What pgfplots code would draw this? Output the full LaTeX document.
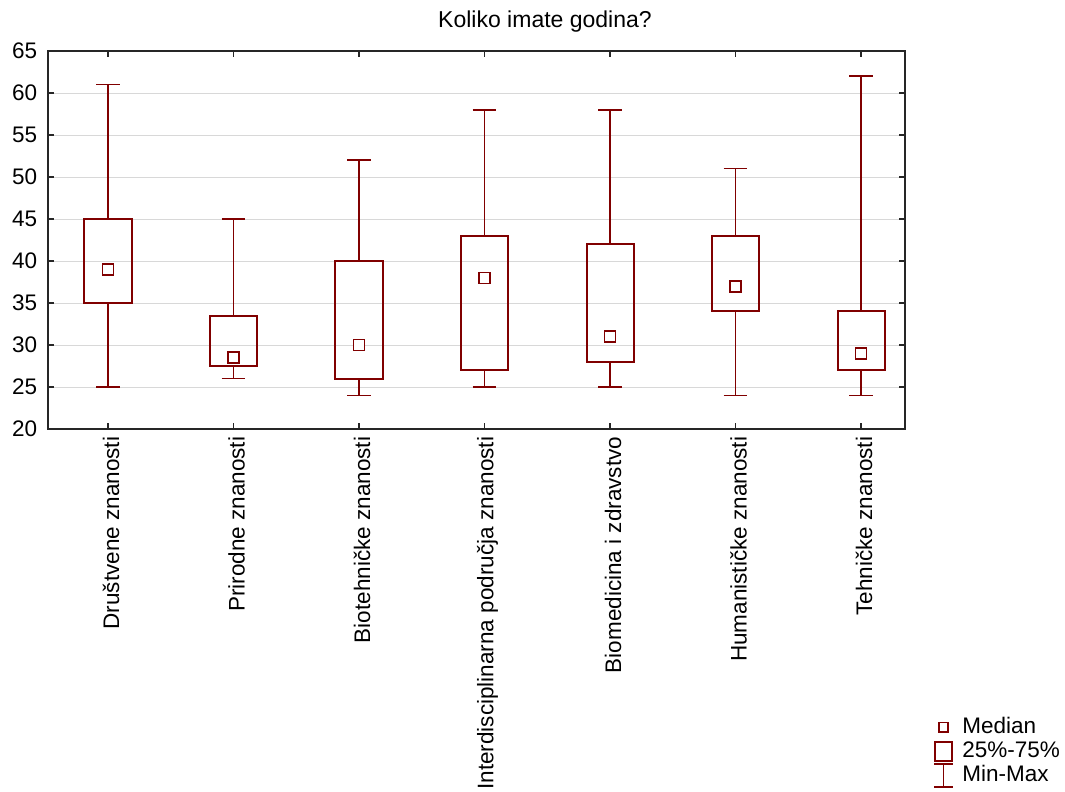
\documentclass[border=0pt]{standalone}
\usepackage{fontspec}
\setmainfont{Liberation Sans}
\usepackage{pgfplots}
\pgfplotsset{compat=1.18}
\usepgfplotslibrary{statistics}
\definecolor{boxred}{RGB}{128,0,0}
\definecolor{gridgray}{RGB}{216,216,216}
\begin{document}
\fontsize{23}{27}\selectfont
\begin{tikzpicture}
\path[use as bounding box] (-48pt,-363pt) rectangle (1017pt,429pt);
\begin{axis}[
  at={(0pt,0pt)}, anchor=south west,
  scale only axis, width=857pt, height=378pt,
  xmin=-0.478, xmax=6.35, ymin=20, ymax=65,
  ytick={20,25,...,65},
  xtick={0,1,2,3,4,5,6},
  xticklabels={Društvene znanosti,Prirodne znanosti,Biotehničke znanosti,Interdisciplinarna područja znanosti,Biomedicina i zdravstvo,Humanističke znanosti,Tehničke znanosti},
  x tick label style={rotate=90, anchor=east},
  ymajorgrids, grid style={gridgray, line width=0.9pt},
  tick align=inside, tick pos=both,
  major tick length=6pt,
  axis line style={line width=1.4pt, black!85},
  tick style={black!85, line width=1.2pt},
  /pgf/number format/assume math mode=true,
  ticklabel style={font=\fontsize{22.5}{26}\selectfont},
  yticklabel style={xshift=-3pt},
  xticklabel style={yshift=-3pt},
  boxplot/draw direction=y,
  boxplot/box extend=0.375,
  boxplot/whisker extend=0.19,
  boxplot/every box/.style={line width=2pt},
  boxplot/every whisker/.style={line width=1.6pt},
  boxplot/every median/.style={draw=none},
  legend style={at={(1.033,-0.757)}, anchor=north west, draw=none, fill=none,
    font=\fontsize{22.5}{26}\selectfont, row sep=0.5pt, column sep=7pt, inner sep=0pt},
  legend cell align=left,
]
\addlegendimage{legend image code/.code={\draw[boxred, line width=1.6pt, fill=white] (0.19cm,-0.16cm) rectangle (0.51cm,0.16cm);}}
\addlegendentry{Median}
\addlegendimage{legend image code/.code={\draw[boxred, line width=2pt] (0.05cm,-0.34cm) rectangle (0.65cm,0.34cm);}}
\addlegendentry{25\%-75\%}
\addlegendimage{legend image code/.code={\draw[boxred, line width=1.6pt] (0.35cm,-0.40cm) -- (0.35cm,0.40cm) (0.03cm,-0.40cm) -- (0.67cm,-0.40cm) (0.03cm,0.40cm) -- (0.67cm,0.40cm);}}
\addlegendentry{Min-Max}

\addplot[boxred, boxplot prepared={draw position=0, lower whisker=25, lower quartile=35, median=39, upper quartile=45, upper whisker=61}] coordinates {};
\addplot[boxred, boxplot prepared={draw position=1, lower whisker=26, lower quartile=27.5, median=28.5, upper quartile=33.5, upper whisker=45}] coordinates {};
\addplot[boxred, boxplot prepared={draw position=2, lower whisker=24, lower quartile=26, median=30, upper quartile=40, upper whisker=52}] coordinates {};
\addplot[boxred, boxplot prepared={draw position=3, lower whisker=25, lower quartile=27, median=38, upper quartile=43, upper whisker=58}] coordinates {};
\addplot[boxred, boxplot prepared={draw position=4, lower whisker=25, lower quartile=28, median=31, upper quartile=42, upper whisker=58}] coordinates {};
\addplot[boxred, boxplot prepared={draw position=5, lower whisker=24, lower quartile=34, median=37, upper quartile=43, upper whisker=51}] coordinates {};
\addplot[boxred, boxplot prepared={draw position=6, lower whisker=24, lower quartile=27, median=29, upper quartile=34, upper whisker=62}] coordinates {};

\addplot[only marks, mark=square*, mark size=5.5pt, draw=boxred, fill=white,
  mark options={draw=boxred, fill=white, line width=1.6pt, solid}] coordinates {
(0,39) (1,28.5) (2,30) (3,38) (4,31) (5,37) (6,29)};
\end{axis}
\node[anchor=center, font=\fontsize{23}{27}\selectfont] at (497pt,407pt) {Koliko imate godina?};
\end{tikzpicture}
\end{document}
